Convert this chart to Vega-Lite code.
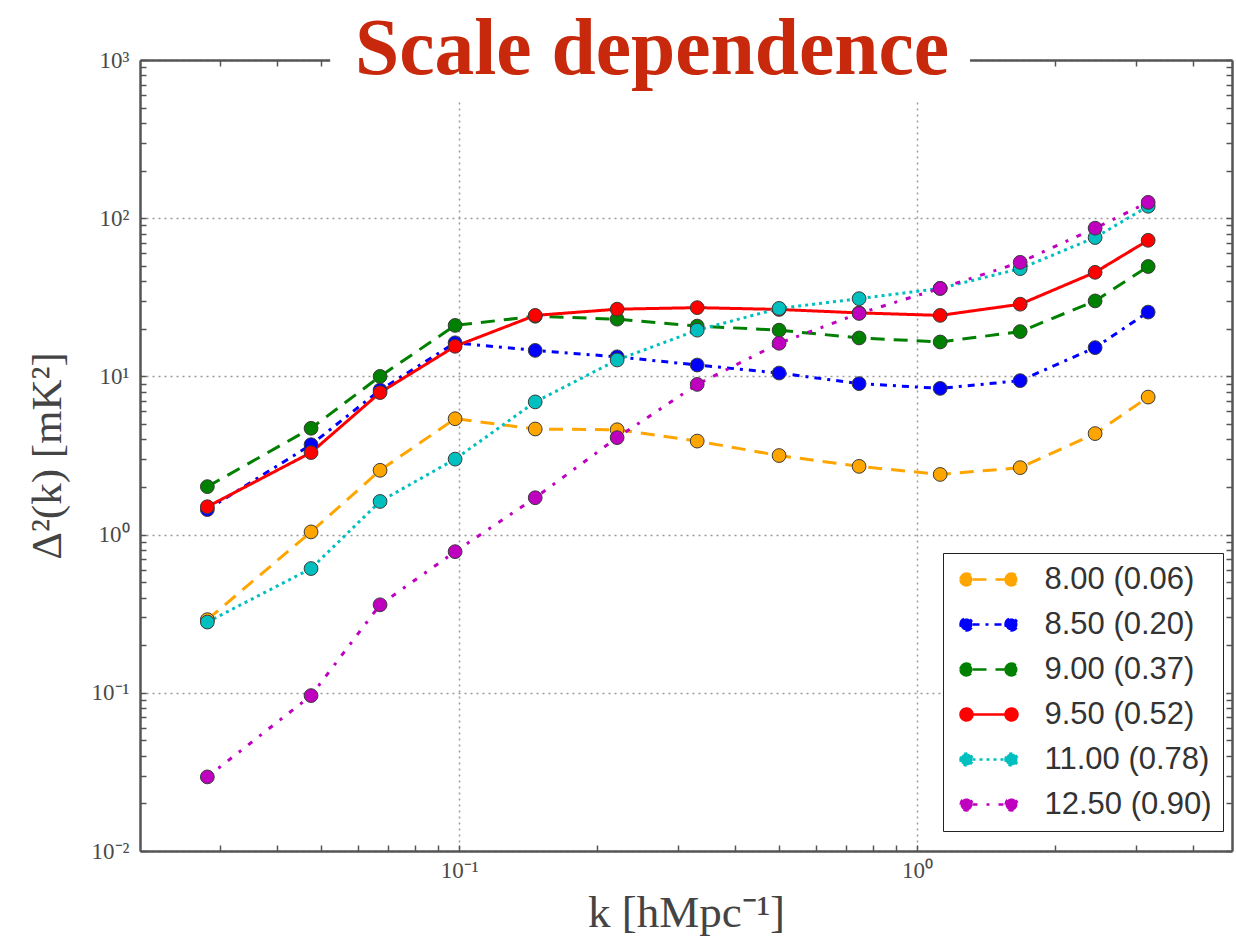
{
  "$schema": "https://vega.github.io/schema/vega-lite/v6.json",
  "width": 1092,
  "height": 791,
  "autosize": {"type": "none"},
  "padding": {"left": 140, "top": 60, "right": 4, "bottom": 86},
  "background": "white",
  "config": {"view": {"stroke": null}, "axis": {"labelFlush": false, "labelOverlap": false}},
  "title": {
    "text": "Scale dependence",
    "font": "Liberation Serif",
    "fontWeight": "bold",
    "fontSize": 79.5,
    "color": "#C8290C",
    "anchor": "start",
    "frame": "group",
    "dx": 215,
    "dy": 86,
    "baseline": "alphabetic",
    "offset": -18,
    "zindex": 1
  },
  "datasets": {
    "spectra": [
      {"series": "8.00 (0.06)", "k": 0.0282, "d2": 0.29},
      {"series": "8.00 (0.06)", "k": 0.0475, "d2": 1.04},
      {"series": "8.00 (0.06)", "k": 0.0672, "d2": 2.55},
      {"series": "8.00 (0.06)", "k": 0.098, "d2": 5.4},
      {"series": "8.00 (0.06)", "k": 0.1466, "d2": 4.65},
      {"series": "8.00 (0.06)", "k": 0.2213, "d2": 4.6},
      {"series": "8.00 (0.06)", "k": 0.331, "d2": 3.9},
      {"series": "8.00 (0.06)", "k": 0.4996, "d2": 3.16},
      {"series": "8.00 (0.06)", "k": 0.747, "d2": 2.7},
      {"series": "8.00 (0.06)", "k": 1.123, "d2": 2.4},
      {"series": "8.00 (0.06)", "k": 1.679, "d2": 2.65},
      {"series": "8.00 (0.06)", "k": 2.447, "d2": 4.35},
      {"series": "8.00 (0.06)", "k": 3.195, "d2": 7.4},
      {"series": "8.50 (0.20)", "k": 0.0282, "d2": 1.44},
      {"series": "8.50 (0.20)", "k": 0.0475, "d2": 3.7},
      {"series": "8.50 (0.20)", "k": 0.0672, "d2": 8.2},
      {"series": "8.50 (0.20)", "k": 0.098, "d2": 16.3},
      {"series": "8.50 (0.20)", "k": 0.1466, "d2": 14.6},
      {"series": "8.50 (0.20)", "k": 0.2213, "d2": 13.3},
      {"series": "8.50 (0.20)", "k": 0.331, "d2": 11.8},
      {"series": "8.50 (0.20)", "k": 0.4996, "d2": 10.5},
      {"series": "8.50 (0.20)", "k": 0.747, "d2": 9.0},
      {"series": "8.50 (0.20)", "k": 1.123, "d2": 8.4},
      {"series": "8.50 (0.20)", "k": 1.679, "d2": 9.4},
      {"series": "8.50 (0.20)", "k": 2.447, "d2": 15.2},
      {"series": "8.50 (0.20)", "k": 3.195, "d2": 25.5},
      {"series": "9.00 (0.37)", "k": 0.0282, "d2": 2.01},
      {"series": "9.00 (0.37)", "k": 0.0475, "d2": 4.7},
      {"series": "9.00 (0.37)", "k": 0.0672, "d2": 10.0},
      {"series": "9.00 (0.37)", "k": 0.098, "d2": 21},
      {"series": "9.00 (0.37)", "k": 0.1466, "d2": 24},
      {"series": "9.00 (0.37)", "k": 0.2213, "d2": 23},
      {"series": "9.00 (0.37)", "k": 0.331, "d2": 20.8},
      {"series": "9.00 (0.37)", "k": 0.4996, "d2": 19.6},
      {"series": "9.00 (0.37)", "k": 0.747, "d2": 17.5},
      {"series": "9.00 (0.37)", "k": 1.123, "d2": 16.5},
      {"series": "9.00 (0.37)", "k": 1.679, "d2": 19.2},
      {"series": "9.00 (0.37)", "k": 2.447, "d2": 30},
      {"series": "9.00 (0.37)", "k": 3.195, "d2": 49.5},
      {"series": "9.50 (0.52)", "k": 0.0282, "d2": 1.5},
      {"series": "9.50 (0.52)", "k": 0.0475, "d2": 3.3},
      {"series": "9.50 (0.52)", "k": 0.0672, "d2": 7.9},
      {"series": "9.50 (0.52)", "k": 0.098, "d2": 15.5},
      {"series": "9.50 (0.52)", "k": 0.1466, "d2": 24.3},
      {"series": "9.50 (0.52)", "k": 0.2213, "d2": 26.6},
      {"series": "9.50 (0.52)", "k": 0.331, "d2": 27.2},
      {"series": "9.50 (0.52)", "k": 0.4996, "d2": 26.5},
      {"series": "9.50 (0.52)", "k": 0.747, "d2": 25.2},
      {"series": "9.50 (0.52)", "k": 1.123, "d2": 24.3},
      {"series": "9.50 (0.52)", "k": 1.679, "d2": 28.6},
      {"series": "9.50 (0.52)", "k": 2.447, "d2": 45.5},
      {"series": "9.50 (0.52)", "k": 3.195, "d2": 72.5},
      {"series": "11.00 (0.78)", "k": 0.0282, "d2": 0.28},
      {"series": "11.00 (0.78)", "k": 0.0475, "d2": 0.61},
      {"series": "11.00 (0.78)", "k": 0.0672, "d2": 1.62},
      {"series": "11.00 (0.78)", "k": 0.098, "d2": 3.0},
      {"series": "11.00 (0.78)", "k": 0.1466, "d2": 6.9},
      {"series": "11.00 (0.78)", "k": 0.2213, "d2": 12.7},
      {"series": "11.00 (0.78)", "k": 0.331, "d2": 19.6},
      {"series": "11.00 (0.78)", "k": 0.4996, "d2": 26.9},
      {"series": "11.00 (0.78)", "k": 0.747, "d2": 31},
      {"series": "11.00 (0.78)", "k": 1.123, "d2": 36},
      {"series": "11.00 (0.78)", "k": 1.679, "d2": 48},
      {"series": "11.00 (0.78)", "k": 2.447, "d2": 75.5},
      {"series": "11.00 (0.78)", "k": 3.195, "d2": 119},
      {"series": "12.50 (0.90)", "k": 0.0282, "d2": 0.0294},
      {"series": "12.50 (0.90)", "k": 0.0475, "d2": 0.096},
      {"series": "12.50 (0.90)", "k": 0.0672, "d2": 0.36},
      {"series": "12.50 (0.90)", "k": 0.098, "d2": 0.78},
      {"series": "12.50 (0.90)", "k": 0.1466, "d2": 1.71},
      {"series": "12.50 (0.90)", "k": 0.2213, "d2": 4.1},
      {"series": "12.50 (0.90)", "k": 0.331, "d2": 8.9},
      {"series": "12.50 (0.90)", "k": 0.4996, "d2": 16.2},
      {"series": "12.50 (0.90)", "k": 0.747, "d2": 25},
      {"series": "12.50 (0.90)", "k": 1.123, "d2": 36},
      {"series": "12.50 (0.90)", "k": 1.679, "d2": 52.6},
      {"series": "12.50 (0.90)", "k": 2.447, "d2": 86.5},
      {"series": "12.50 (0.90)", "k": 3.195, "d2": 126}
    ]
  },
  "layer": [
    {
      "data": {"name": "spectra"},
      "mark": {"type": "line", "strokeWidth": 3, "clip": false},
      "encoding": {
        "x": {
          "field": "k", "type": "quantitative",
          "scale": {"type": "log", "domain": [0.0201, 4.87], "nice": false},
          "axis": {
            "orient": "bottom",
            "values": [0.03, 0.04, 0.05, 0.06, 0.07, 0.08, 0.09, 0.1, 0.2, 0.3, 0.4, 0.5, 0.6, 0.7, 0.8, 0.9, 1, 2, 3, 4],
            "labelExpr": "datum.value == 0.1 ? '10⁻¹' : datum.value == 1 ? '10⁰' : ''",
            "grid": true,
            "gridDash": [2, 4],
            "gridColor": "#9a9a9a",
            "gridWidth": 1.5,
            "gridOpacity": {"condition": {"test": "datum.value == 0.1 || datum.value == 1", "value": 1}, "value": 0},
            "tickSize": -6,
            "tickColor": "#555",
            "tickWidth": 1.5,
            "domainColor": "#555",
            "domainWidth": 2.5,
            "labelFont": "Liberation Serif",
            "labelFontSize": 23,
            "labelColor": "#4a4a4a",
            "labelPadding": 14,
            "title": "k [hMpc⁻¹]",
            "titleFont": "Liberation Serif",
            "titleFontSize": 45,
            "titleFontWeight": "normal",
            "titleColor": "#444",
            "titlePadding": 8
          }
        },
        "y": {
          "field": "d2", "type": "quantitative",
          "scale": {"type": "log", "domain": [0.01, 1000], "nice": false},
          "axis": {
            "orient": "left",
            "values": [0.01, 0.02, 0.03, 0.04, 0.05, 0.06, 0.07, 0.08, 0.09, 0.1, 0.2, 0.3, 0.4, 0.5, 0.6, 0.7, 0.8, 0.9, 1, 2, 3, 4, 5, 6, 7, 8, 9, 10, 20, 30, 40, 50, 60, 70, 80, 90, 100, 200, 300, 400, 500, 600, 700, 800, 900, 1000],
            "labelExpr": "datum.value == 0.01 ? '10⁻²' : datum.value == 0.1 ? '10⁻¹' : datum.value == 1 ? '10⁰' : datum.value == 10 ? '10¹' : datum.value == 100 ? '10²' : datum.value == 1000 ? '10³' : ''",
            "grid": true,
            "gridDash": [2, 4],
            "gridColor": "#9a9a9a",
            "gridWidth": 1.5,
            "gridOpacity": {"condition": {"test": "datum.value == 0.01 || datum.value == 0.1 || datum.value == 1 || datum.value == 10 || datum.value == 100 || datum.value == 1000", "value": 1}, "value": 0},
            "tickSize": -6,
            "tickColor": "#555",
            "tickWidth": 1.5,
            "domainColor": "#555",
            "domainWidth": 2.5,
            "labelFont": "Liberation Serif",
            "labelFontSize": 23,
            "labelColor": "#4a4a4a",
            "labelPadding": 17,
            "title": "Δ²(k) [mK²]",
            "titleFont": "Liberation Serif",
            "titleFontSize": 43,
            "titleFontWeight": "normal",
            "titleColor": "#444",
            "titlePadding": 22
          }
        },
        "color": {
          "field": "series", "type": "nominal",
          "scale": {
            "domain": ["8.00 (0.06)", "8.50 (0.20)", "9.00 (0.37)", "9.50 (0.52)", "11.00 (0.78)", "12.50 (0.90)"],
            "range": ["#FFA500", "#0000FF", "#008000", "#FF0000", "#00BFBF", "#BF00BF"]
          },
          "legend": {
            "title": null,
            "orient": "none",
            "legendX": 803,
            "legendY": 493,
            "zindex": 1,
            "fillColor": "white",
            "strokeColor": "#222",
            "cornerRadius": 0,
            "padding": 11,
            "symbolType": "M -1.159,0 L 1.159,0 M -1.999,0 C -1.999,-0.232 -1.811,-0.42 -1.579,-0.42 C -1.347,-0.42 -1.159,-0.232 -1.159,0 C -1.159,0.232 -1.347,0.42 -1.579,0.42 C -1.811,0.42 -1.999,0.232 -1.999,0 Z M 1.159,0 C 1.159,-0.232 1.347,-0.42 1.579,-0.42 C 1.811,-0.42 1.999,-0.232 1.999,0 C 1.999,0.232 1.811,0.42 1.579,0.42 C 1.347,0.42 1.159,0.232 1.159,0 Z",
            "symbolSize": 812,
            "symbolStrokeWidth": 2.5,
            "symbolOffset": 19.5,
            "labelFont": "Liberation Sans",
            "labelFontSize": 31,
            "labelColor": "#333",
            "labelOffset": 40,
            "labelLimit": 400,
            "rowPadding": 13
          }
        },
        "strokeDash": {
          "field": "series", "type": "nominal",
          "scale": {
            "domain": ["8.00 (0.06)", "8.50 (0.20)", "9.00 (0.37)", "9.50 (0.52)", "11.00 (0.78)", "12.50 (0.90)"],
            "range": [[14, 9], [7, 6, 3, 6], [14, 9], [1, 0], [3, 4], [5, 9, 3, 9]]
          },
          "legend": {
            "title": null,
            "orient": "none",
            "legendX": 803,
            "legendY": 493,
            "zindex": 1,
            "fillColor": "white",
            "strokeColor": "#222",
            "cornerRadius": 0,
            "padding": 11,
            "symbolType": "M -1.159,0 L 1.159,0 M -1.999,0 C -1.999,-0.232 -1.811,-0.42 -1.579,-0.42 C -1.347,-0.42 -1.159,-0.232 -1.159,0 C -1.159,0.232 -1.347,0.42 -1.579,0.42 C -1.811,0.42 -1.999,0.232 -1.999,0 Z M 1.159,0 C 1.159,-0.232 1.347,-0.42 1.579,-0.42 C 1.811,-0.42 1.999,-0.232 1.999,0 C 1.999,0.232 1.811,0.42 1.579,0.42 C 1.347,0.42 1.159,0.232 1.159,0 Z",
            "symbolSize": 812,
            "symbolStrokeWidth": 2.5,
            "symbolOffset": 19.5,
            "labelFont": "Liberation Sans",
            "labelFontSize": 31,
            "labelColor": "#333",
            "labelOffset": 40,
            "labelLimit": 400,
            "rowPadding": 13
          }
        }
      }
    },
    {
      "data": {"name": "spectra"},
      "mark": {"type": "point", "shape": "circle", "filled": true, "size": 190, "stroke": "#3a3a3a", "strokeWidth": 1, "opacity": 1, "clip": false},
      "encoding": {
        "x": {
          "field": "k", "type": "quantitative",
          "axis": {
            "orient": "top",
            "values": [0.03, 0.04, 0.05, 0.06, 0.07, 0.08, 0.09, 0.1, 0.2, 0.3, 0.4, 0.5, 0.6, 0.7, 0.8, 0.9, 1, 2, 3, 4],
            "labels": false,
            "grid": false,
            "tickSize": -6,
            "tickColor": "#555",
            "tickWidth": 1.5,
            "domainColor": "#555",
            "domainWidth": 2.5,
            "title": null
          }
        },
        "y": {
          "field": "d2", "type": "quantitative",
          "axis": {
            "orient": "right",
            "values": [0.01, 0.02, 0.03, 0.04, 0.05, 0.06, 0.07, 0.08, 0.09, 0.1, 0.2, 0.3, 0.4, 0.5, 0.6, 0.7, 0.8, 0.9, 1, 2, 3, 4, 5, 6, 7, 8, 9, 10, 20, 30, 40, 50, 60, 70, 80, 90, 100, 200, 300, 400, 500, 600, 700, 800, 900, 1000],
            "labels": false,
            "grid": false,
            "tickSize": -6,
            "tickColor": "#555",
            "tickWidth": 1.5,
            "domainColor": "#555",
            "domainWidth": 2.5,
            "title": null
          }
        },
        "fill": {
          "field": "series", "type": "nominal",
          "scale": {
            "domain": ["8.00 (0.06)", "8.50 (0.20)", "9.00 (0.37)", "9.50 (0.52)", "11.00 (0.78)", "12.50 (0.90)"],
            "range": ["#FFA500", "#0000FF", "#008000", "#FF0000", "#00BFBF", "#BF00BF"]
          },
          "legend": null
        }
      }
    },
    {
      "data": {"values": [{"mask": "title"}]},
      "mark": {"type": "rect", "fill": "white", "strokeWidth": 0, "clip": false},
      "encoding": {
        "x": {"datum": 0.0523, "type": "quantitative", "axis": null},
        "x2": {"datum": 1.305},
        "y": {"datum": 558, "type": "quantitative", "axis": null},
        "y2": {"datum": 1060}
      }
    }
  ],
  "resolve": {"axis": {"x": "independent", "y": "independent"}}
}
